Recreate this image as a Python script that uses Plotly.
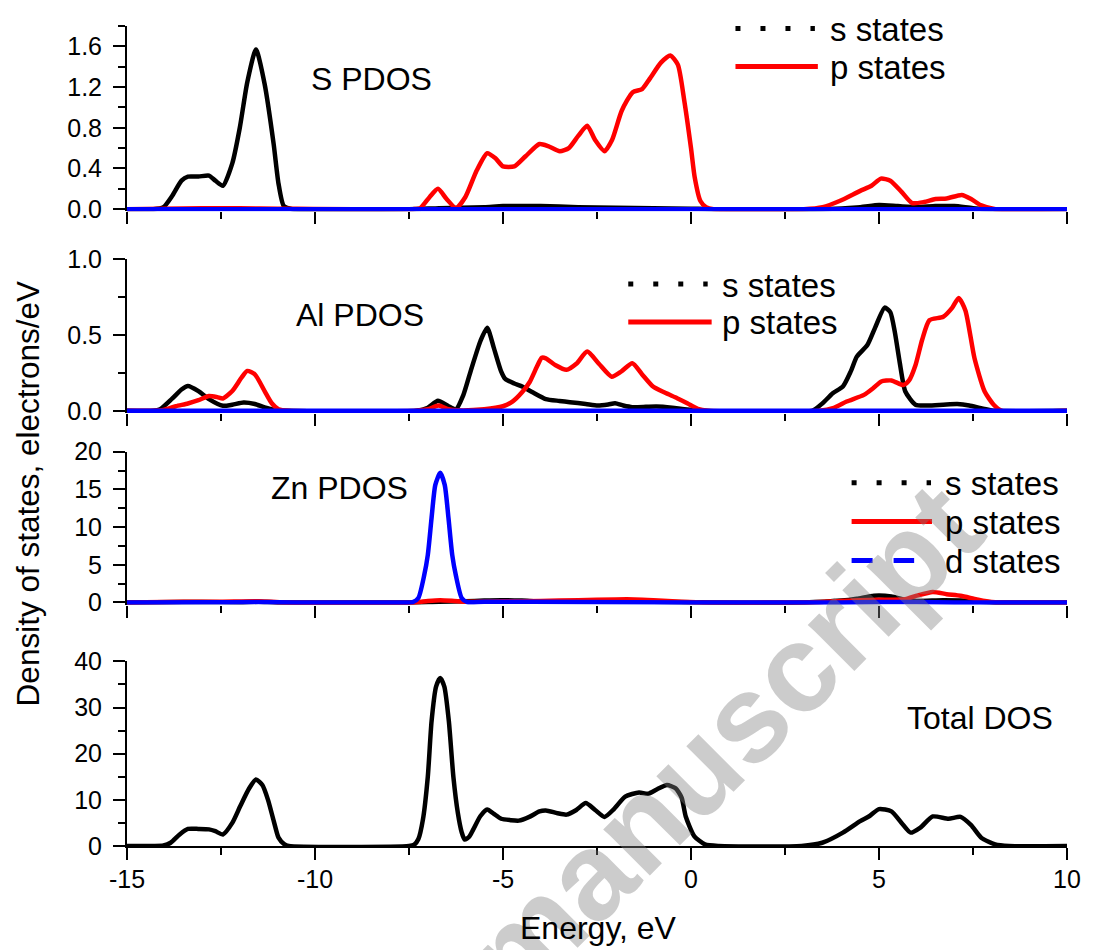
import plotly.graph_objects as go

# ---------------- data ----------------
S_s_E = [-15, -14.3, -14.03, -13.8, -13.55, -13.38, -13.1, -12.82, -12.65, -12.45, -12.2, -12.0, -11.8,
         -11.57, -11.34, -11.1, -10.97, -10.83, -10.6, -7.5, -6.7, -5.5, -5.0, -4.0, -3.0, -2.0, -1.0,
         0.0, 0.5, 3.5, 4.5, 5.0, 5.5, 6.0, 6.5, 7.0, 7.5, 8.0, 10]
S_s = [0, 0, 0.02, 0.13, 0.28, 0.32, 0.32, 0.33, 0.28, 0.23, 0.45, 0.80, 1.25,
       1.57, 1.23, 0.64, 0.25, 0.03, 0, 0, 0.01, 0.02, 0.03, 0.03, 0.02, 0.015, 0.01,
       0.005, 0, 0, 0.02, 0.04, 0.03, 0.02, 0.03, 0.03, 0.01, 0, 0]

S_p_E = [-15, -14.0, -13.0, -12.0, -11.0, -7.4, -7.2, -6.95, -6.73, -6.5, -6.25, -6.0, -5.7, -5.42, -5.2,
         -5.0, -4.7, -4.4, -4.03, -3.8, -3.49, -3.25, -3.0, -2.76, -2.55, -2.3, -2.1, -1.84, -1.55, -1.3,
         -1.1, -0.8, -0.55, -0.35, -0.18, 0.0, 0.1, 0.25, 0.4, 0.6, 3.0, 3.5, 3.95, 4.5, 4.8, 5.05, 5.3,
         5.6, 5.88, 6.2, 6.5, 6.8, 7.2, 7.45, 7.7, 8.1, 10]
S_p = [0, 0.005, 0.01, 0.008, 0.005, 0, 0.01, 0.12, 0.2, 0.1, 0.01, 0.12, 0.38, 0.55, 0.5,
       0.42, 0.42, 0.52, 0.64, 0.62, 0.57, 0.60, 0.72, 0.82, 0.68, 0.57, 0.68, 0.97, 1.15, 1.18,
       1.28, 1.44, 1.51, 1.42, 1.07, 0.6, 0.31, 0.08, 0.02, 0, 0, 0.02, 0.08, 0.18, 0.23, 0.30, 0.28,
       0.17, 0.06, 0.07, 0.10, 0.105, 0.14, 0.1, 0.04, 0, 0]

S_d_E = [-15, 10]
S_d = [0, 0]

Al_s_E = [-15, -14.3, -14.12, -13.8, -13.55, -13.38, -13.1, -12.82, -12.45, -12.2, -11.9, -11.6, -11.34,
          -11.06, -10.8, -7.3, -7.0, -6.73, -6.45, -6.25, -6.06, -5.85, -5.6, -5.42, -5.25, -5.05, -4.94,
          -4.7, -4.49, -4.2, -3.86, -3.5, -3.22, -2.8, -2.48, -2.2, -2.02, -1.8, -1.56, -1.2, -0.92, -0.5,
          -0.18, 0.28, 3.22, 3.5, 3.77, 4.04, 4.25, 4.41, 4.69, 4.9, 5.15, 5.3, 5.42, 5.55, 5.7, 5.97,
          6.3, 6.71, 7.08, 7.4, 7.72, 8.09, 10]
Al_s = [0, 0, 0.01, 0.08, 0.14, 0.164, 0.13, 0.077, 0.033, 0.04, 0.055, 0.045, 0.022,
        0.005, 0, 0, 0.02, 0.066, 0.03, 0.01, 0.10, 0.27, 0.46, 0.547, 0.42, 0.26, 0.21,
        0.18, 0.16, 0.12, 0.077, 0.065, 0.057, 0.045, 0.035, 0.042, 0.05, 0.035, 0.024, 0.026, 0.028, 0.02,
        0.01, 0, 0, 0.05, 0.116, 0.16, 0.26, 0.357, 0.433, 0.55, 0.68, 0.65, 0.52, 0.32, 0.127, 0.04,
        0.035, 0.04, 0.044, 0.035, 0.017, 0, 0]

Al_p_E = [-15, -14.3, -14.03, -13.7, -13.38, -13.1, -12.82, -12.6, -12.45, -12.2, -11.95, -11.8, -11.6,
          -11.34, -11.15, -10.97, -10.7, -7.3, -7.0, -6.71, -6.45, -6.2, -5.5, -5.0, -4.75, -4.5, -4.29,
          -4.1, -3.97, -3.86, -3.6, -3.31, -3.05, -2.76, -2.45, -2.11, -1.85, -1.56, -1.3, -1.01, -0.7,
          -0.37, -0.1, 0.18, 0.45, 3.4, 3.8, 4.14, 4.6, 4.85, 5.06, 5.33, 5.65, 5.8, 5.97, 6.15, 6.34,
          6.71, 6.95, 7.12, 7.3, 7.54, 7.81, 8.05, 8.27, 10]
Al_p = [0, 0, 0.005, 0.03, 0.048, 0.07, 0.098, 0.09, 0.081, 0.13, 0.22, 0.263, 0.24,
        0.13, 0.05, 0.01, 0, 0, 0.01, 0.035, 0.01, 0.003, 0.01, 0.03, 0.06, 0.12, 0.19,
        0.29, 0.35, 0.346, 0.30, 0.27, 0.31, 0.39, 0.31, 0.225, 0.26, 0.313, 0.24, 0.16, 0.12,
        0.083, 0.05, 0.013, 0, 0, 0.02, 0.061, 0.105, 0.15, 0.193, 0.2, 0.17, 0.2, 0.30, 0.47, 0.597,
        0.62, 0.68, 0.744, 0.66, 0.346, 0.127, 0.04, 0.0, 0]

Al_d_E = [-15, 10]
Al_d = [0, 0]

Zn_s_E = [-15, -13.5, -13.0, -12.0, -11.5, -11.0, -7.5, -6.7, -6.0, -5.5, -5.05, -4.5, -4.0, -3.0, -2.0,
          -1.0, 0.0, 0.5, 3.0, 4.0, 4.41, 4.87, 5.33, 5.7, 6.0, 6.7, 7.2, 7.7, 8.2, 10]
Zn_s = [0, 0.05, 0.06, 0.03, 0.08, 0.0, 0, 0.1, 0.15, 0.25, 0.3, 0.25, 0.15, 0.12, 0.1,
        0.08, 0.03, 0, 0, 0.25, 0.5, 0.9, 0.8, 0.35, 0.2, 0.3, 0.25, 0.1, 0, 0]

Zn_p_E = [-15, -13.5, -12.5, -11.5, -10.8, -7.4, -7.0, -6.67, -6.3, -6.0, -5.0, -4.0, -3.0, -2.0, -1.5,
          -1.0, -0.5, 0.3, 3.0, 4.0, 5.0, 5.7, 6.0, 6.43, 6.8, 7.17, 7.6, 8.0, 10]
Zn_p = [0, 0.1, 0.1, 0.15, 0, 0, 0.2, 0.3, 0.2, 0.1, 0.15, 0.2, 0.3, 0.4, 0.4,
        0.3, 0.15, 0, 0, 0.2, 0.35, 0.44, 0.9, 1.4, 1.1, 0.88, 0.4, 0.05, 0]

Zn_d_E = [-15, -13.0, -11.5, -10.5, -7.6, -7.4, -7.25, -7.1, -7.0, -6.9, -6.8, -6.67, -6.55, -6.45,
          -6.35, -6.25, -6.1, -5.95, -5.5, -3.0, 0, 4.0, 5.0, 6.0, 7.0, 10]
Zn_d = [0, 0.02, 0.05, 0, 0, 0.05, 0.6, 3.5, 6.3, 11.2, 15.6, 17.2, 15.6, 11.2,
        6.3, 3.5, 0.6, 0.05, 0.1, 0.05, 0, 0, 0.05, 0.05, 0, 0]

Tot_E = [-15, -14.3, -14.03, -13.84, -13.6, -13.38, -13.1, -12.82, -12.65, -12.45, -12.2, -11.99, -11.75,
         -11.57, -11.4, -11.25, -11.1, -10.97, -10.82, -10.7, -7.5, -7.36, -7.25, -7.13, -7.0, -6.9,
         -6.78, -6.67, -6.56, -6.44, -6.32, -6.2, -6.1, -6.02, -5.9, -5.79, -5.6, -5.42, -5.25, -5.05,
         -4.8, -4.58, -4.3, -4.03, -3.86, -3.55, -3.31, -3.05, -2.8, -2.55, -2.3, -2.05, -1.75, -1.38,
         -1.15, -0.9, -0.64, -0.41, -0.25, -0.14, 0.09, 0.37, 0.74, 2.94, 3.49, 4.04, 4.5, 4.75, 5.0,
         5.33, 5.6, 5.84, 6.1, 6.43, 6.85, 7.17, 7.45, 7.72, 8.09, 8.46, 10]
Tot = [0, 0, 0.1, 0.7, 2.5, 3.7, 3.7, 3.6, 3.2, 2.5, 5.0, 8.6, 12.5,
       14.4, 13.2, 10, 5.5, 1.8, 0.4, 0, 0, 0.3, 1.5, 5.7, 15, 27,
       34.5, 36.4, 34.5, 27, 15, 7.1, 3.0, 1.4, 2.0, 3.6, 6.5, 7.9, 7.0, 5.9,
       5.6, 5.5, 6.3, 7.5, 7.7, 7.1, 6.8, 7.8, 9.3, 7.8, 6.3, 8.0, 10.7, 11.6,
       11.3, 12.3, 13.2, 12.5, 10.5, 6.4, 2.1, 0.35, 0, 0, 0.7, 2.9, 5.4, 6.5, 8.0,
       7.5, 5.0, 2.9, 4.0, 6.4, 5.9, 6.3, 4.5, 1.8, 0.35, 0, 0]

X_TICKS = [-15, -10, -5, 0, 5, 10]
X_TICK_TEXT = ["-15", "-10", "-5", "0", "5", "10"]
PANEL_LABELS = ["S PDOS", "Al PDOS", "Zn PDOS", "Total DOS"]
LEGEND_LABELS = ["s states", "p states", "d states"]
X_TITLE = "Energy, eV"
Y_TITLE = "Density of states, electrons/eV"
WATERMARK = "manuscript"

# ---------------- figure ----------------
W, H = 1093, 950
X_LEFT, X_RIGHT, Y_TOP, Y_BOT = 127, 1074, 24.5, 846          # plot area in window pixels
ML, MR, MT, MB = X_LEFT, W - X_RIGHT, Y_TOP, H - Y_BOT
PW, PH = X_RIGHT - X_LEFT, Y_BOT - Y_TOP
FONT = "Liberation Sans, Arial, sans-serif"
BLACK, RED, BLUE = "#000000", "#ff0000", "#0000ff"
LW = 4.5


def px(x):
    return (x - X_LEFT) / PW


def py(y):
    return (Y_BOT - y) / PH


fig = go.Figure()

panels = [
    [(S_s_E, S_s, BLACK), (S_p_E, S_p, RED), (S_d_E, S_d, BLUE)],
    [(Al_s_E, Al_s, BLACK), (Al_p_E, Al_p, RED), (Al_d_E, Al_d, BLUE)],
    [(Zn_s_E, Zn_s, BLACK), (Zn_p_E, Zn_p, RED), (Zn_d_E, Zn_d, BLUE)],
    [(Tot_E, Tot, BLACK)],
]
for i, series in enumerate(panels):
    suffix = "" if i == 0 else str(i + 1)
    for xs, ys, col in series:
        fig.add_trace(go.Scatter(
            x=xs, y=ys, mode="lines", xaxis="x" + suffix, yaxis="y" + suffix,
            line=dict(color=col, width=LW, shape="spline", smoothing=0.6),
            showlegend=False, hoverinfo="skip"))

# panel extents in window pixels: (zero line, top)
panel_px = [(208, 24.5), (410, 258), (602, 451), (846, 661)]
ytops = [1.8, 1.0, 20, 40]
ydticks = [0.4, 0.5, 5, 10]
yminor = [0.2, 0.25, 2.5, 5]
yfmt = [".1f", ".1f", "d", "d"]

tickfont = dict(family=FONT, size=25, color="black")
layout = {}
for i in range(4):
    suffix = "" if i == 0 else str(i + 1)
    b, t = panel_px[i]
    # panels 1-3: the zero (d-state) line sits on the bottom edge, as in the original
    lift = 2.2 if i < 3 else 0.0
    per_px = ytops[i] / (b - t)
    yr = [-lift * per_px, ytops[i]]
    layout["xaxis" + suffix] = dict(
        domain=[0, 1], anchor="y" + suffix, range=[-15, 10],
        showline=(i == 3), linecolor="black", linewidth=2, mirror=False,
        ticks="outside", ticklen=12, tickwidth=2, tickcolor="black",
        tickvals=X_TICKS, ticktext=X_TICK_TEXT,
        minor=dict(dtick=2.5, tick0=0, ticks="outside", ticklen=7, tickwidth=2, tickcolor="black", showgrid=False),
        showticklabels=(i == 3), tickfont=tickfont, ticklabelstandoff=-2,
        showgrid=False, zeroline=False, fixedrange=True)
    layout["yaxis" + suffix] = dict(
        domain=[py(b + lift), py(t)], anchor="x" + suffix, range=yr,
        showline=True, linecolor="black", linewidth=2,
        ticks="outside", ticklen=12, tickwidth=2, tickcolor="black",
        dtick=ydticks[i], tick0=0, tickformat=yfmt[i],
        minor=dict(dtick=yminor[i], tick0=0, ticks="outside", ticklen=7, tickwidth=2, tickcolor="black", showgrid=False),
        tickfont=tickfont, ticklabelstandoff=6, showgrid=False, zeroline=False, fixedrange=True)

annotations = []
# watermark
annotations.append(dict(
    text="<b>" + WATERMARK + "</b>", xref="paper", yref="paper", x=px(727), y=py(742),
    xanchor="center", yanchor="middle", showarrow=False, textangle=-45,
    font=dict(family=FONT, size=124, color="rgba(128,128,128,0.40)")))

# panel labels
label_pos = [(310, 78), (295, 314), (270, 487), (911, 718)]
for txt, (lx, ly) in zip(PANEL_LABELS, label_pos):
    annotations.append(dict(
        text=txt, xref="paper", yref="paper", x=px(lx), y=py(ly), xanchor="left", yanchor="middle",
        showarrow=False, font=dict(family=FONT, size=32, color="black")))

# axis titles
annotations.append(dict(
    text=X_TITLE, xref="paper", yref="paper", x=px(602), y=py(928), xanchor="center", yanchor="middle",
    showarrow=False, font=dict(family=FONT, size=32, color="black")))
annotations.append(dict(
    text=Y_TITLE, xref="paper", yref="paper", x=px(27), y=py(493), xanchor="center", yanchor="middle",
    showarrow=False, textangle=-90, font=dict(family=FONT, size=31.5, color="black")))

# legends (drawn as keys)
shapes = []
legend_specs = [
    # (x0, x1, text_x, [(y, label_index, style)])
    (740, 823, 833, [(27, 0, "dot"), (65, 1, "solid")]),
    (632, 716, 724, [(283, 0, "dot"), (321, 1, "solid")]),
    (857, 938, 949, [(482, 0, "dot"), (521, 1, "solid"), (560, 2, "dash")]),
]
style_map = {
    "dot": dict(color=BLACK, width=5, dash="5px,20px"),
    "solid": dict(color=RED, width=5, dash="solid"),
    "dash": dict(color=BLUE, width=5, dash="21px,21px"),
}
for x0, x1, tx, items in legend_specs:
    for ly, li, st in items:
        end = x1
        if st == "dot":
            end = x0 + 80
        elif st == "dash":
            end = x0 + 63
        shapes.append(dict(type="line", xref="paper", yref="paper",
                           x0=px(x0), x1=px(end), y0=py(ly), y1=py(ly), line=style_map[st]))
        annotations.append(dict(
            text=LEGEND_LABELS[li], xref="paper", yref="paper", x=px(tx), y=py(ly + 1),
            xanchor="left", yanchor="middle", showarrow=False,
            font=dict(family=FONT, size=33, color="black")))

fig.update_layout(
    width=W, height=H, autosize=False,
    margin=dict(l=ML, r=MR, t=MT, b=MB, pad=0),
    paper_bgcolor="white", plot_bgcolor="white",
    showlegend=False, annotations=annotations, shapes=shapes,
    font=dict(family=FONT, color="black"),
    **layout)

# remove the page's default body margin so the figure fills the window exactly
fig.write_html("out.html", config={"displayModeBar": False},
               post_script="document.body.style.margin='0px';document.body.style.overflow='hidden';")
